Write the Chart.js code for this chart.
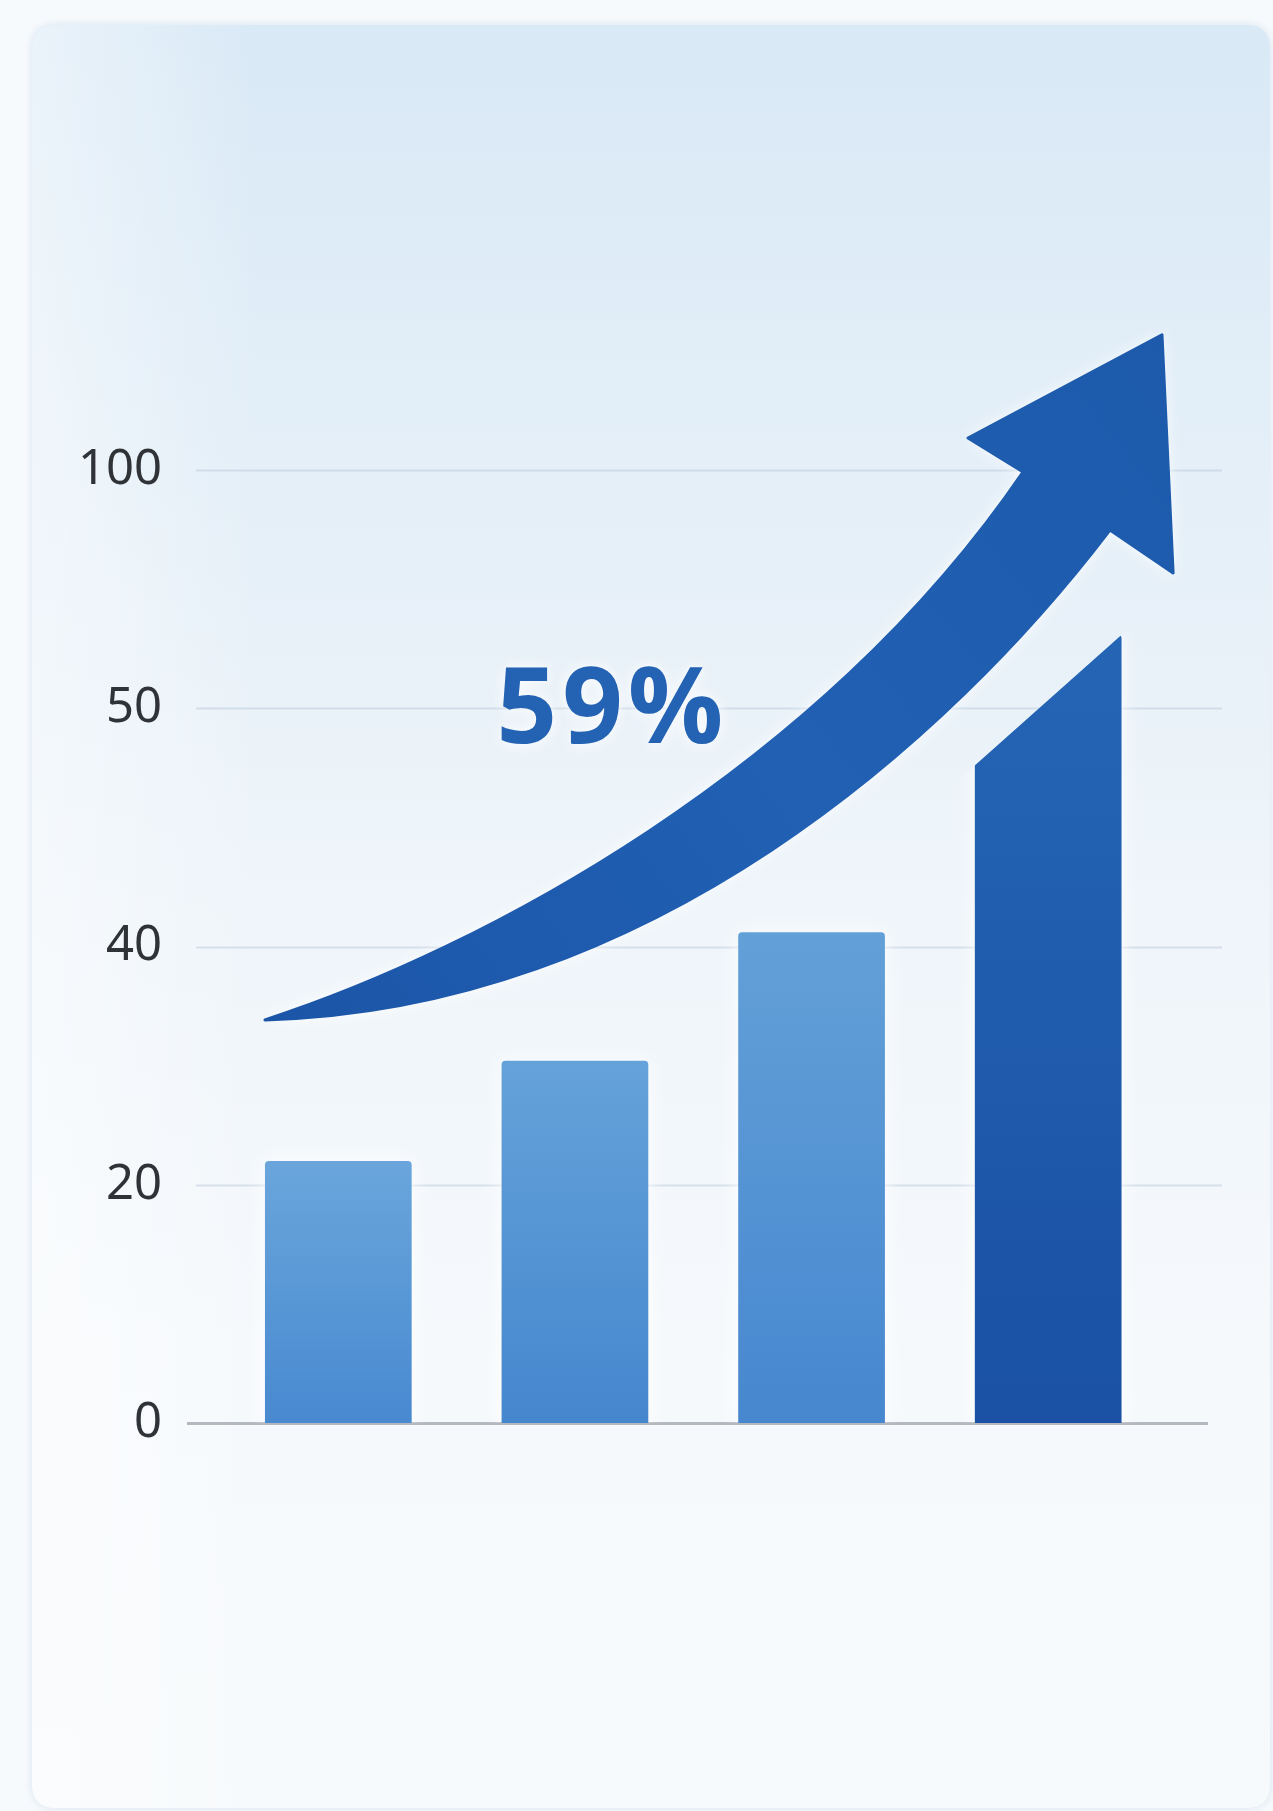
<!DOCTYPE html>
<html>
<head>
<meta charset="utf-8">
<script src="https://cdn.jsdelivr.net/npm/chart.js@4.4.1/dist/chart.umd.min.js"></script>
<style>
  html, body { margin: 0; padding: 0; background: #f7fafd; }
  #wrap { width: 1273px; height: 1811px; position: relative; }
  canvas { display: block; }
</style>
</head>
<body>
<div id="wrap"><canvas id="c" width="1273" height="1811"></canvas></div>
<script>
// ---------------- data ----------------
const categories = ['Period 1', 'Period 2', 'Period 3', 'Period 4'];
const barValues = [22, 30.4, 40.6, 65.4];      // bar heights (last bar: peak of slanted top)
const finalBarStartValue = 47.6;               // left edge of last bar's slanted top
const yTickLabels = [0, 20, 40, 50, 100];      // evenly spaced (non-linear) axis labels
const growthLabel = '59%';

// ---------------- helpers ----------------
// map a value onto the evenly spaced, piecewise axis
function toAxis(v) {
  for (let i = 0; i < yTickLabels.length - 1; i++) {
    const a = yTickLabels[i], b = yTickLabels[i + 1];
    if (v <= b) return i + (v - a) / (b - a);
  }
  return yTickLabels.length - 1;
}

// decoration geometry, in scale units [category index, axis position]
const arrowShape = {
  // cubic bezier: tail -> inner notch (upper edge)
  upper: [[-0.310, 1.692], [0.599, 1.985], [2.036, 2.741], [2.894, 3.992]],
  // head: left barb, tip, right barb, right notch
  head:  [[2.661, 4.134], [3.481, 4.567], [3.528, 3.568], [3.261, 3.748]],
  // cubic bezier: right notch -> tail (lower edge)
  lower: [[3.261, 3.748], [2.585, 2.867], [1.317, 1.734], [-0.310, 1.692]]
};
const growthLabelAnchor = { x: 1.150, y: 2.854 };

function roundRectPath(ctx, x, y, w, h, r) {
  ctx.beginPath();
  ctx.moveTo(x + r, y);
  ctx.lineTo(x + w - r, y); ctx.quadraticCurveTo(x + w, y, x + w, y + r);
  ctx.lineTo(x + w, y + h - r); ctx.quadraticCurveTo(x + w, y + h, x + w - r, y + h);
  ctx.lineTo(x + r, y + h); ctx.quadraticCurveTo(x, y + h, x, y + h - r);
  ctx.lineTo(x, y + r); ctx.quadraticCurveTo(x, y, x + r, y);
  ctx.closePath();
}

// ---------------- plugins ----------------
const backgroundPlugin = {
  id: 'cardBackground',
  beforeDraw(chart) {
    const ctx = chart.ctx, W = chart.width, H = chart.height;
    ctx.save();
    ctx.fillStyle = '#f7fafd';
    ctx.fillRect(0, 0, W, H);
    const g = ctx.createLinearGradient(0, 25, 0, 1808);
    g.addColorStop(0, '#d9e9f6');
    g.addColorStop(0.25, '#e4eff8');
    g.addColorStop(0.5, '#eff5fa');
    g.addColorStop(0.75, '#f6f9fc');
    g.addColorStop(1, '#f7fafc');
    ctx.shadowColor = 'rgba(150,180,210,0.35)';
    ctx.shadowBlur = 8;
    roundRectPath(ctx, 32, 25, 1238, 1783, 24);
    ctx.fillStyle = g;
    ctx.fill();
    ctx.shadowBlur = 0;
    const side = ctx.createLinearGradient(32, 0, 260, 0);
    side.addColorStop(0, 'rgba(255,255,255,0.45)');
    side.addColorStop(1, 'rgba(255,255,255,0)');
    ctx.fillStyle = side;
    roundRectPath(ctx, 32, 25, 1238, 1783, 24);
    ctx.fill();
    ctx.restore();
  }
};

const gridPlugin = {
  id: 'extendedGrid',
  beforeDatasetsDraw(chart) {
    const ctx = chart.ctx, y = chart.scales.y;
    ctx.save();
    yTickLabels.forEach((_, i) => {
      const py = Math.round(y.getPixelForValue(i)) + 0.5;
      ctx.beginPath();
      if (i === 0) {
        ctx.strokeStyle = '#b4b9bf'; ctx.lineWidth = 3;
        ctx.moveTo(187, py); ctx.lineTo(1208, py);
      } else {
        ctx.strokeStyle = 'rgba(180,196,212,0.45)'; ctx.lineWidth = 2;
        ctx.moveTo(196, py); ctx.lineTo(1222, py);
      }
      ctx.stroke();
    });
    ctx.restore();
  }
};

const barShapePlugin = {
  id: 'barShape',
  beforeDatasetDraw(chart, args) {
    const ctx = chart.ctx, y = chart.scales.y;
    const el = args.meta.data[3];
    ctx.save();
    ctx.shadowColor = 'rgba(255,255,255,1)';
    ctx.shadowBlur = 18;
    if (!el) return;
    const left = el.x - el.width / 2, right = el.x + el.width / 2;
    const yTop = y.getPixelForValue(toAxis(barValues[3]));
    const yStart = y.getPixelForValue(toAxis(finalBarStartValue));
    const m = (yTop - yStart) / (right - left);
    const e = 40;
    ctx.beginPath();
    ctx.rect(0, 0, chart.width, chart.height);
    ctx.moveTo(left - e, yStart - e * m);
    ctx.lineTo(right + e, yTop + e * m);
    ctx.lineTo(right + e, yTop - 80);
    ctx.lineTo(left - e, yTop - 80);
    ctx.closePath();
    ctx.clip('evenodd');
  },
  afterDatasetDraw(chart) {
    chart.ctx.restore();
  }
};

const arrowPlugin = {
  id: 'growthArrow',
  afterDatasetsDraw(chart) {
    const ctx = chart.ctx, xs = chart.scales.x, ys = chart.scales.y;
    const P = p => [xs.getPixelForValue(p[0]), ys.getPixelForValue(p[1])];
    const u = arrowShape.upper.map(P), h = arrowShape.head.map(P), l = arrowShape.lower.map(P);
    ctx.save();
    const g = ctx.createLinearGradient(u[0][0], u[0][1], h[1][0], h[1][1]);
    g.addColorStop(0, '#1b55a8');
    g.addColorStop(0.5, '#2160b3');
    g.addColorStop(1, '#1d5aac');
    ctx.beginPath();
    ctx.moveTo(u[0][0], u[0][1]);
    ctx.bezierCurveTo(u[1][0], u[1][1], u[2][0], u[2][1], u[3][0], u[3][1]);
    h.forEach(p => ctx.lineTo(p[0], p[1]));
    ctx.bezierCurveTo(l[1][0], l[1][1], l[2][0], l[2][1], l[3][0], l[3][1]);
    ctx.closePath();
    ctx.shadowColor = 'rgba(255,255,255,1)';
    ctx.shadowBlur = 14;
    ctx.fillStyle = g;
    ctx.fill();
    ctx.shadowBlur = 0;
    ctx.lineJoin = 'round';
    ctx.lineWidth = 3;
    ctx.strokeStyle = g;
    ctx.stroke();

    // growth label
    const lx = xs.getPixelForValue(growthLabelAnchor.x);
    const ly = ys.getPixelForValue(growthLabelAnchor.y);
    ctx.font = '700 106px "Open Sans", "Noto Sans", sans-serif';
    try { ctx.letterSpacing = '5px'; } catch (e) {}
    ctx.textAlign = 'center';
    ctx.textBaseline = 'alphabetic';
    ctx.shadowColor = 'rgba(255,255,255,1)';
    ctx.shadowBlur = 14;
    ctx.fillStyle = '#2462b3';
    ctx.fillText(growthLabel, lx + 2, ly);
    ctx.restore();
  }
};

// ---------------- chart ----------------
const barTop = ['#6aa6dc', '#65a2da', '#63a0d8', '#2565b5'];
const barBottom = ['#4889d0', '#4587ce', '#4787cf', '#1a51a5'];

function barGradient(c) {
  const chart = c.chart, i = c.dataIndex;
  const area = chart.chartArea;
  if (!area || i === undefined) return barTop[i || 0];
  const ys = chart.scales.y;
  const top = ys.getPixelForValue(toAxis(barValues[i]));
  const g = chart.ctx.createLinearGradient(0, top, 0, area.bottom);
  g.addColorStop(0, barTop[i]);
  g.addColorStop(1, barBottom[i]);
  return g;
}

new Chart(document.getElementById('c'), {
  type: 'bar',
  data: {
    labels: categories,
    datasets: [{
      label: 'Growth',
      data: barValues.map(toAxis),
      backgroundColor: barGradient,
      borderWidth: 0,
      borderRadius: { topLeft: 4, topRight: 4, bottomLeft: 0, bottomRight: 0 },
      borderSkipped: 'bottom',
      barPercentage: 0.62,
      categoryPercentage: 1.0
    }]
  },
  options: {
    responsive: false,
    devicePixelRatio: 1,
    animation: false,
    layout: { padding: { left: 0, right: 106.5, top: 470, bottom: 388 } },
    plugins: { legend: { display: false }, tooltip: { enabled: false }, title: { display: false } },
    scales: {
      x: { display: false, offset: true, grid: { display: false } },
      y: {
        min: 0, max: yTickLabels.length - 1,
        grid: { display: false, drawTicks: false },
        border: { display: false },
        afterFit(scale) { scale.width = 220; },
        ticks: {
          stepSize: 1,
          padding: 58,
          color: '#2f3338',
          font: { family: '"Noto Sans", sans-serif', size: 49, weight: '400' },
          callback: v => yTickLabels[v]
        }
      }
    }
  },
  plugins: [backgroundPlugin, gridPlugin, barShapePlugin, arrowPlugin]
});
</script>
</body>
</html>
